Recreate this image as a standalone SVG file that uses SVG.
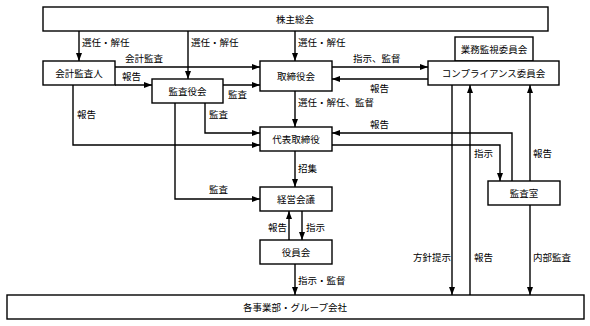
<svg xmlns="http://www.w3.org/2000/svg" width="590" height="326" viewBox="0 0 590 326">
<style>
.b{fill:#fff;stroke:#000;stroke-width:1.4}
.c{fill:none;stroke:#000;stroke-width:1.4}
text{font-family:"Noto Sans CJK JP","Noto Sans CJK SC",sans-serif;font-size:9.5px;fill:#000}
.m{text-anchor:middle}
</style>
<defs>
<marker id="a" markerWidth="8" markerHeight="6" refX="8" refY="3" orient="auto" markerUnits="userSpaceOnUse">
<path d="M0,0L8,3L0,6Z" fill="#000"/>
</marker>
</defs>
<rect width="590" height="326" fill="#fff"/>
<g id="connectors">
<path class="c" marker-end="url(#a)" d="M79,31V61"/>
<path class="c" marker-end="url(#a)" d="M188,31V79"/>
<path class="c" marker-end="url(#a)" d="M295,31V61"/>
<path class="c" marker-end="url(#a)" d="M115,67H260"/>
<path class="c" marker-end="url(#a)" d="M115,85H152"/>
<path class="c" marker-end="url(#a)" d="M223,85H260"/>
<path class="c" marker-end="url(#a)" d="M332,67H428"/>
<path class="c" marker-end="url(#a)" d="M428,79H332"/>
<path class="c" marker-end="url(#a)" d="M295,91V127"/>
<path class="c" marker-end="url(#a)" d="M73,85V145H260"/>
<path class="c" marker-end="url(#a)" d="M205,103V133H260"/>
<path class="c" marker-end="url(#a)" d="M175,103V199H260"/>
<path class="c" marker-end="url(#a)" d="M295,151V187"/>
<path class="c" marker-end="url(#a)" d="M332,145H500V181"/>
<path class="c" marker-end="url(#a)" d="M512,181V133H332"/>
<path class="c" marker-end="url(#a)" d="M530,181V85"/>
<path class="c" marker-end="url(#a)" d="M530,205V295"/>
<path class="c" marker-end="url(#a)" d="M452,85V295"/>
<path class="c" marker-end="url(#a)" d="M470,295V85"/>
<path class="c" marker-end="url(#a)" d="M289,240V211"/>
<path class="c" marker-end="url(#a)" d="M302,211V240"/>
<path class="c" marker-end="url(#a)" d="M295,264V295"/>
<text x="82" y="46">選任・解任</text>
<text x="191" y="46">選任・解任</text>
<text x="298" y="46">選任・解任</text>
<text x="125" y="62">会計監査</text>
<text x="122" y="80">報告</text>
<text x="228" y="98">監査</text>
<text x="353" y="62">指示、監督</text>
<text x="370" y="92">報告</text>
<text x="298" y="106">選任・解任、監督</text>
<text x="77" y="118">報告</text>
<text x="209" y="118">監査</text>
<text x="370" y="128">報告</text>
<text x="298" y="172">招集</text>
<text x="474" y="157">指示</text>
<text x="533" y="157">報告</text>
<text x="209" y="193">監査</text>
<text x="268" y="231">報告</text>
<text x="306" y="231">指示</text>
<text x="298" y="284">指示・監督</text>
<text x="413" y="261">方針提示</text>
<text x="474" y="261">報告</text>
<text x="533" y="261">内部監査</text>
</g>
<g id="n1"><rect class="b" x="43" y="7" width="505" height="24"/><text class="m" x="295" y="22.5">株主総会</text></g>
<g id="n2"><rect class="b" x="43" y="61" width="72" height="24"/><text class="m" x="79" y="76.5">会計監査人</text></g>
<g id="n3"><rect class="b" x="152" y="79" width="71" height="24"/><text class="m" x="187.5" y="94.5">監査役会</text></g>
<g id="n4"><rect class="b" x="260" y="61" width="72" height="30"/><text class="m" x="296" y="79.5">取締役会</text></g>
<g id="n5"><rect class="b" x="455" y="37" width="78" height="24"/><text class="m" x="494" y="52.5">業務監視委員会</text></g>
<g id="n6"><rect class="b" x="428" y="61" width="131" height="24"/><text class="m" x="493.5" y="76.5">コンプライアンス委員会</text></g>
<g id="n7"><rect class="b" x="260" y="127" width="72" height="24"/><text class="m" x="296" y="142.5">代表取締役</text></g>
<g id="n8"><rect class="b" x="488" y="181" width="72" height="24"/><text class="m" x="524" y="196.5">監査室</text></g>
<g id="n9"><rect class="b" x="260" y="187" width="72" height="24"/><text class="m" x="296" y="202.5">経営会議</text></g>
<g id="n10"><rect class="b" x="260" y="240" width="72" height="24"/><text class="m" x="296" y="255.5">役員会</text></g>
<g id="n11"><rect class="b" x="7" y="295" width="577" height="24"/><text class="m" x="295" y="310.5">各事業部・グループ会社</text></g>
</svg>
